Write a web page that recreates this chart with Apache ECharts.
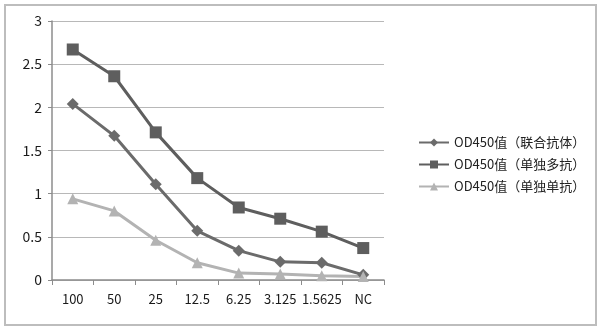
<!DOCTYPE html>
<html><head><meta charset="utf-8">
<script src="https://cdn.jsdelivr.net/npm/echarts@6/dist/echarts.min.js"></script>
<style>html,body{margin:0;padding:0;background:#fff}#c{width:600px;height:333px}</style>
</head><body><div id="c"></div>
<script>
const categories = ['100','50','25','12.5','6.25','3.125','1.5625','NC'];
const seriesNames = ['OD450值（联合抗体）','OD450值（单独多抗）','OD450值（单独单抗）'];
const combined = [2.04,1.67,1.11,0.57,0.34,0.21,0.20,0.06];
const polyclonal = [2.67,2.36,1.71,1.18,0.84,0.71,0.56,0.37];
const monoclonal = [0.94,0.80,0.46,0.20,0.08,0.07,0.05,0.04];
const yTicks = [0,0.5,1,1.5,2,2.5,3];

const font = '"Noto Sans CJK SC", "Noto Sans", sans-serif';
const chart = echarts.init(document.getElementById('c'));
const mk = (name, data, color, symbol, size) => ({
  name, type:'line', data, symbol, symbolSize:size,
  lineStyle:{color, width:3}, itemStyle:{color},
  emphasis:{disabled:true}, animation:false
});
chart.setOption({
  animation:false,
  textStyle:{fontFamily:font},
  graphic:[{type:'rect', shape:{x:5,y:5,width:591,height:320}, style:{fill:'none', stroke:'#bdbdbd', lineWidth:2}}],
  grid:{left:52, top:21, width:332, height:259},
  legend:{
    orient:'vertical', left:413, top:131, itemGap:9, itemWidth:30, itemHeight:10,
    textStyle:{fontSize:13, color:'#222', fontFamily:font},
    data:seriesNames
  },
  xAxis:{
    type:'category', data:categories, boundaryGap:true,
    axisLine:{lineStyle:{color:'#8c8c8c', width:1.5}},
    axisTick:{show:true, length:5, lineStyle:{color:'#8c8c8c'}},
    axisLabel:{interval:0, fontSize:13, color:'#1a1a1a', margin:13, fontFamily:font}
  },
  yAxis:{
    type:'value', min:0, max:3, interval:0.5,
    axisLine:{show:true, lineStyle:{color:'#8c8c8c', width:1.5}},
    axisTick:{show:true, length:4, lineStyle:{color:'#8c8c8c'}},
    axisLabel:{fontSize:14, color:'#1a1a1a', margin:10, fontFamily:font, formatter:v=>String(v)},
    splitLine:{lineStyle:{color:'#b8b8b8', width:1.2}}
  },
  series:[
    mk(seriesNames[0], combined, '#6b6b6b', 'diamond', 12),
    mk(seriesNames[1], polyclonal, '#5e5e5e', 'rect', 12),
    mk(seriesNames[2], monoclonal, '#b3b3b3', 'triangle', 11)
  ]
});
</script></body></html>
